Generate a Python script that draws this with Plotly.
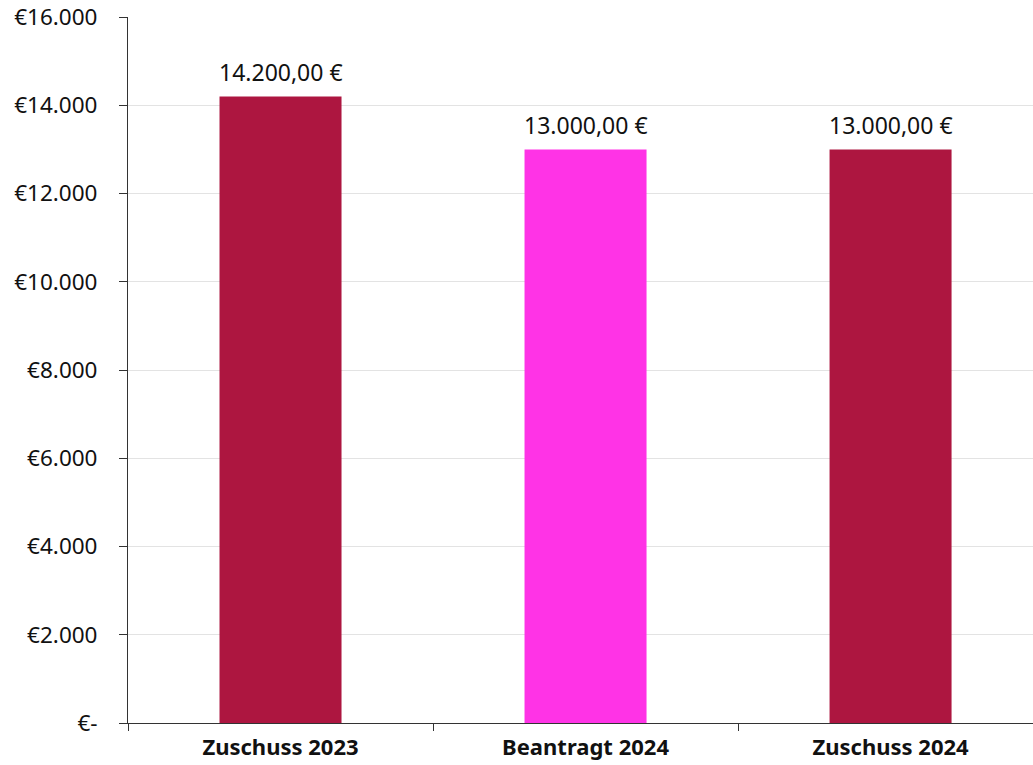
import plotly.graph_objects as go

categories = ["Zuschuss 2023", "Beantragt 2024", "Zuschuss 2024"]
values = [14200, 13000, 13000]
bar_colors = ["#AD1640", "#FF33E6", "#AD1640"]
y_tickvals = [0, 2000, 4000, 6000, 8000, 10000, 12000, 14000, 16000]
y_ticktext = ["€-", "€2.000", "€4.000", "€6.000", "€8.000", "€10.000",
              "€12.000", "€14.000", "€16.000"]


def euro(v):
    s = f"{v:,.2f}"
    s = s.replace(",", "X").replace(".", ",").replace("X", ".")
    return s + " €"


FONT = "Noto Sans, Open Sans, sans-serif"

fig = go.Figure(go.Bar(
    x=categories,
    y=values,
    marker=dict(color=bar_colors, line=dict(width=0)),
    width=0.4,
))

for c, v in zip(categories, values):
    fig.add_annotation(x=c, y=v, text=euro(v), showarrow=False,
                       yanchor="bottom", yshift=6,
                       font=dict(family=FONT, size=23, color="#111111"))

fig.update_layout(
    width=1033, height=765,
    margin=dict(l=128, r=0, t=17, b=42),
    paper_bgcolor="white", plot_bgcolor="white",
    showlegend=False,
    font=dict(family=FONT, size=22, color="#111111"),
)
fig.update_xaxes(
    range=[-0.5, 2.467],
    automargin=False,
    tickson="boundaries",
    ticks="outside", ticklen=7, tickcolor="#333333", tickwidth=1,
    showline=True, linecolor="#333333", linewidth=1,
    showgrid=False,
    ticklabelstandoff=5,
    tickfont=dict(family=FONT, size=22, color="#111111", weight="bold"),
)
fig.update_yaxes(
    range=[0, 16000],
    automargin=False,
    tickvals=y_tickvals, ticktext=y_ticktext,
    ticks="outside", ticklen=8, tickcolor="#333333", tickwidth=1,
    showline=True, linecolor="#333333", linewidth=1,
    showgrid=True, gridcolor="#E3E3E3", gridwidth=1,
    zeroline=False,
    ticklabelstandoff=17,
    tickfont=dict(family=FONT, size=22.5, color="#111111"),
)

fig.write_html("out.html")
